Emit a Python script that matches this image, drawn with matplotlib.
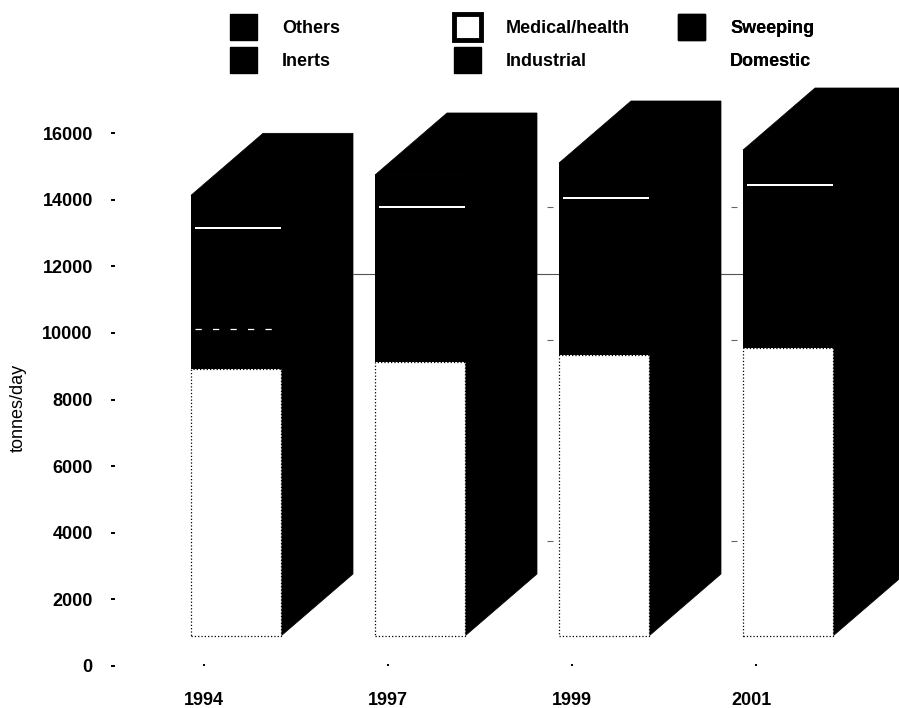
import numpy as np
import matplotlib
matplotlib.use("Agg")
import matplotlib.pyplot as plt
from matplotlib.patches import Patch
from matplotlib.transforms import ScaledTranslation

plt.rcParams['font.family'] = ['Liberation Sans', 'DejaVu Sans']

years = ['1994', '1997', '1999', '2001']
domestic = [8010, 8220, 8430, 8640]
sweeping = [1220, 1250, 1280, 1300]
industrial = [1400, 1500, 1500, 1550]
inerts = [1590, 1870, 1910, 2020]
medical = [60, 60, 60, 60]
others = [950, 940, 1020, 1020]
y_ticks = [0, 2000, 4000, 6000, 8000, 10000, 12000, 14000, 16000]

W, H = 899, 708
PX_PER_UNIT = 533 / 16000
Y0_PX, TOP_PX = 666, 80
LEFT_PX = 115
STEP_PX, BAR_PX, CENTER_PX = 184, 90, 236
FLOOR = 900                      # the 3-D front plane sits above the axis zero
DX = 72 / STEP_PX
DY = 62 / PX_PER_UNIT
BW = BAR_PX / STEP_PX

fig = plt.figure(figsize=(W / 100, H / 100), dpi=100)
ax = fig.add_axes([LEFT_PX / W, 1 - Y0_PX / H, 1 - LEFT_PX / W, (Y0_PX - TOP_PX) / H])
ax.set_xlim((LEFT_PX - CENTER_PX) / STEP_PX, (W - CENTER_PX) / STEP_PX)
ax.set_ylim(0, (Y0_PX - TOP_PX) / PX_PER_UNIT)
for s in ax.spines.values():
    s.set_visible(False)

x = np.arange(len(years), dtype=float)

# back-wall gridlines: only fragments survive between the bars
ax.hlines(11770, (353 - CENTER_PX) / STEP_PX, (743 - CENTER_PX) / STEP_PX,
          color='#555555', lw=0.8, zorder=1)
for gx in (1, 2):
    for gy in (13780, 9785, 3750):
        ax.hlines(gy, gx + 127 / STEP_PX, gx + 133 / STEP_PX, color='#666666', lw=0.8, zorder=1)

layers = [domestic, sweeping, industrial, inerts, medical, others]
names = ['Domestic', 'Sweeping', 'Industrial', 'Inerts', 'Medical/health', 'Others']
colors = ['white', 'black', 'black', 'black', 'white', 'black']

bottom = np.full(len(years), float(FLOOR))
for name, vals, col in zip(names, layers, colors):
    vals = np.array(vals, float)
    top = bottom + vals
    if name == 'Domestic':
        ax.bar(x, vals, BW, bottom=bottom, color='white', edgecolor='black', linewidth=0.9,
               linestyle=':', zorder=3)
    elif name == 'Medical/health':
        ax.bar(x, vals, BW, bottom=bottom, color='black', linewidth=0, zorder=3)
        inset = 4 / STEP_PX
        ax.bar(x + inset / 2, vals, BW - inset, bottom=bottom, color='white', linewidth=0, zorder=4)
    else:
        ax.bar(x, vals, BW, bottom=bottom, color=col, linewidth=0, zorder=3)
    if name == 'Sweeping':
        ax.hlines(top[0], x[0] - BW / 2 + 0.02, x[0] + BW / 2, color='white', lw=0.9,
                  linestyle=(0, (5, 9)), zorder=5)
    bottom = top

# side and top faces of the 3-D columns, as one outline
for xi, t in zip(x, bottom):
    l, r = xi - BW / 2, xi + BW / 2
    ax.fill([r, r + DX, r + DX, l + DX, l, r],
            [FLOOR, FLOOR + DY, t + DY, t + DY, t, t], color='black', lw=0.5, zorder=2)

ax.set_yticks(y_ticks)
ax.set_yticklabels([str(v) for v in y_ticks], fontsize=13, fontweight='bold')
ax.tick_params(axis='y', length=3, width=1.4, pad=13, color='black')
ax.set_xticks(x - 32 / STEP_PX)
ax.set_xticklabels(years, fontsize=13, fontweight='bold')
ax.tick_params(axis='x', length=1.5, width=1.4, pad=19, direction='in', color='black')
lab = ax.get_xticklabels()[3]
lab.set_transform(lab.get_transform() + ScaledTranslation(-3 / 72, 0, fig.dpi_scale_trans))

ax.set_ylabel('tonnes/day', fontsize=13)
ax.yaxis.set_label_coords(27 / W, 1 - 408 / H, transform=fig.transFigure)

# legend, three independent columns
def sw(name):
    if name == 'Domestic':
        return Patch(facecolor='white', edgecolor='white', label=name)
    if name == 'Medical/health':
        return Patch(facecolor='white', edgecolor='black', linewidth=3.5, label=name)
    return Patch(facecolor='black', edgecolor='black', label=name)

columns = [(['Others', 'Inerts'], 230), (['Medical/health', 'Industrial'], 454), (['Sweeping', 'Domestic'], 678)]
for labels, px in columns:
    leg = ax.legend(handles=[sw(n) for n in labels], loc='upper left',
                    bbox_to_anchor=(px / W, 1 - 14 / H), bbox_transform=fig.transFigure,
                    frameon=False, borderpad=0, borderaxespad=0,
                    prop={'size': 13, 'weight': 'bold'}, handlelength=1.5, handleheight=1.8,
                    handletextpad=1.38, labelspacing=0.42)
    ax.add_artist(leg)

fig.savefig('out.png', dpi=100, facecolor='white')
